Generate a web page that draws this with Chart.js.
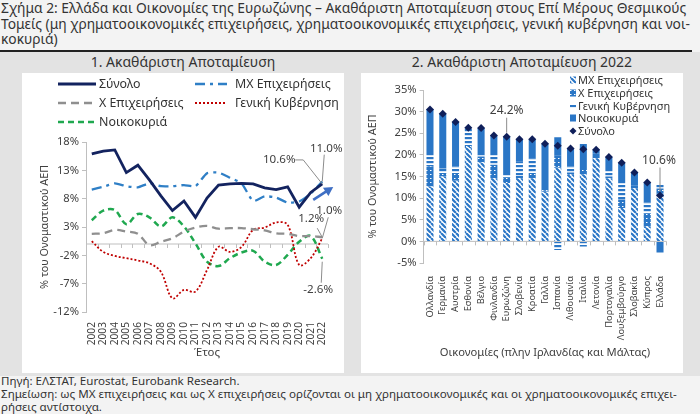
<!DOCTYPE html>
<html>
<head>
<meta charset="utf-8">
<script src="https://cdn.jsdelivr.net/npm/chart.js@4.4.1/dist/chart.umd.min.js"></script>
<style>
  body { margin: 0; width: 700px; height: 414px; background: #f3f3f3; font-family: "Noto Sans", Lato, sans-serif; color: #333; overflow: hidden; position: relative; }
  #title { position: absolute; left: 1px; top: 0px; width: 698px; font-size: 13.8px; line-height: 15.5px; white-space: nowrap; }
  #rule { position: absolute; left: 0; top: 50px; width: 692px; height: 1.5px; background: #222; }
  #band { position: absolute; left: 0; top: 52px; width: 700px; height: 324px; background: #e3e3e3; }
  .sub { position: absolute; top: 53px; font-size: 14px; line-height: 18px; text-align: center; }
  .panel { position: absolute; top: 73px; width: 322px; height: 300px; background: #fff; }
  #foot { position: absolute; left: 1px; top: 374px; width: 698px; font-size: 11.6px; line-height: 13px; white-space: nowrap; }
</style>
</head>
<body>
<div id="title">Σχήμα 2: Ελλάδα και Οικονομίες της Ευρωζώνης – Ακαθάριστη Αποταμίευση στους Επί Μέρους Θεσμικούς<br>Τομείς (μη χρηματοοικονομικές επιχειρήσεις, χρηματοοικονομικές επιχειρήσεις, γενική κυβέρνηση και νοι-<br>κοκυριά)</div>
<div id="rule"></div>
<div id="band"></div>
<div class="sub" style="left:22px;width:322px;">1. Ακαθάριστη Αποταμίευση</div>
<div class="sub" style="left:361px;width:322px;">2. Ακαθάριστη Αποταμίευση 2022</div>
<div class="panel" style="left:22px;"><canvas id="c1" width="322" height="300"></canvas></div>
<div class="panel" style="left:361px;"><canvas id="c2" width="322" height="300"></canvas></div>
<div id="foot">Πηγή: ΕΛΣΤΑΤ, Eurostat, Eurobank Research.<br>Σημείωση: ως ΜΧ επιχειρήσεις και ως Χ επιχειρήσεις ορίζονται οι μη χρηματοοικονομικές και οι χρηματοοικονομικές επιχει-<br>ρήσεις αντίστοιχα.</div>
<script>
// data — chart 1 (% of GDP)
const years = ['2002','2003','2004','2005','2006','2007','2008','2009','2010','2011','2012','2013','2014','2015','2016','2017','2018','2019','2020','2021','2022'];
const total = [15.9,16.4,16.6,12.6,13.9,11.3,8.5,5.9,7.6,4.7,8.1,10.4,10.6,10.7,10.6,9.9,9.6,10.1,6.5,9.1,10.6];
const nfc   = [9.6,10.1,10.7,10.2,10.0,10.7,10.2,10.2,10.4,10.2,12.5,12.6,11.7,10.7,7.6,8.4,8.2,7.3,7.5,8.9,11.0];
const fc    = [1.8,1.9,2.5,2.2,1.8,-0.2,0.4,1.0,2.2,2.9,3.2,2.7,2.8,2.8,2.6,2.4,1.9,1.8,1.4,1.4,1.2];
const gov   = [0.5,-1.4,-2.1,-2.5,-2.9,-3.4,-4.9,-9.6,-8.1,-8.4,-4.6,-0.5,-1.4,-0.5,2.5,2.9,3.8,3.4,-3.7,-2.5,1.0];
const hh    = [4.2,5.9,6.0,3.5,5.3,4.7,3.1,4.7,3.1,0.1,-3.1,-3.9,-2.5,-1.5,-1.2,-3.1,-3.7,-1.9,0.4,1.4,-2.6];
const yTicks1 = [-12,-7,-2,3,8,13,18];

// data — chart 2 (2022, % of GDP)
const countries = ['Ολλανδία','Γερμανία','Αυστρία','Εσθονία','Βέλγιο','Φινλανδία','Ευρωζώνη','Σλοβενία','Κροατία','Γαλλία','Ισπανία','Λιθουανία','Ιταλία','Λετονία','Πορτογαλία','Λουξεμβούργο','Σλοβακία','Κύπρος','Ελλάδα'];
const nfc22 = [12.7,15.0,14.0,21.8,18.3,14.6,13.5,14.6,14.6,11.5,17.0,15.4,15.5,19.2,14.6,7.7,12.3,3.5,11.0];
const fc22  = [4.6,0.8,1.8,0.5,1.3,3.1,1.2,0.5,1.2,0.3,2.8,0.5,1.0,0.8,0.4,2.0,0.3,3.0,1.2];
const gov22 = [2.7,1.0,1.5,3.8,0.3,2.3,1.1,3.4,3.4,0.0,-2.0,1.4,-1.2,0.4,1.5,3.8,0.4,2.5,1.0];
const hh22  = [10.6,12.7,10.3,0.2,6.3,4.5,8.4,5.1,4.4,10.8,4.3,4.2,6.0,0.8,3.0,4.7,2.9,4.6,-2.6];
const tot22 = [30.5,29.5,27.6,26.3,26.2,24.5,24.2,23.6,23.6,22.6,22.1,21.5,21.3,21.2,19.5,18.2,15.9,13.6,10.6];

const $ = id => document.getElementById(id);
const TXT = '#404040', AX = '#bfbfbf', BLUE = '#2a76c6';
const FAM = '"Noto Sans", Lato, sans-serif';
Chart.defaults.font.family = FAM;
Chart.defaults.color = TXT;
Chart.defaults.animation = false;

// zero line with little tick marks, like the category axis crossing at 0
const zeroLine = {
  id: 'zeroLine',
  beforeDatasetsDraw(chart) {
    const {ctx, chartArea: a, scales: {x, y}} = chart;
    const y0 = y.getPixelForValue(0), n = chart.data.labels.length;
    ctx.save();
    ctx.strokeStyle = AX; ctx.lineWidth = 1;
    ctx.beginPath();
    ctx.moveTo(a.left, y0); ctx.lineTo(a.right, y0);
    for (let i = 0; i <= n; i++) {
      const px = Math.round(a.left + (a.right - a.left) * i / n) + 0.5;
      ctx.moveTo(px, y0); ctx.lineTo(px, y0 + 4);
    }
    ctx.stroke();
    ctx.restore();
  }
};

// hand-placed legend
const fixedLegend = {
  id: 'fixedLegend',
  afterDraw(chart, args, opts) {
    const ctx = chart.ctx;
    ctx.save();
    ctx.font = opts.font;
    ctx.fillStyle = '#333';
    ctx.textBaseline = 'middle';
    opts.items.forEach(it => {
      const ds = chart.data.datasets[it.ds];
      if (it.kind === 'line') {
        ctx.save();
        ctx.strokeStyle = ds.borderColor; ctx.lineWidth = ds.borderWidth;
        ctx.setLineDash(ds.borderDash || []);
        ctx.beginPath(); ctx.moveTo(it.x, it.y); ctx.lineTo(it.x + it.len, it.y); ctx.stroke();
        ctx.restore();
        ctx.fillText(ds.label, it.x + it.len + it.gap, it.y + 0.5);
      } else if (it.kind === 'diamond') {
        ctx.save();
        ctx.fillStyle = ds.backgroundColor;
        ctx.beginPath();
        ctx.moveTo(it.x, it.y - 3.5); ctx.lineTo(it.x + 3.5, it.y); ctx.lineTo(it.x, it.y + 3.5); ctx.lineTo(it.x - 3.5, it.y);
        ctx.fill(); ctx.restore();
        ctx.fillText(ds.label, it.x + it.gap, it.y + 0.5);
      } else {
        ctx.save();
        ctx.fillStyle = ds.backgroundColor;
        ctx.fillRect(it.x - 3, it.y - it.h / 2, 6, it.h);
        ctx.restore();
        ctx.fillText(ds.label, it.x + it.gap, it.y + 0.5);
      }
    });
    ctx.restore();
  }
};

// value labels with leader lines, placed relative to the labelled point
const notes = {
  id: 'notes',
  afterDraw(chart, args, opts) {
    const {ctx, scales: {x, y}} = chart;
    ctx.save();
    ctx.font = opts.font;
    ctx.fillStyle = TXT;
    ctx.textAlign = 'center'; ctx.textBaseline = 'middle';
    ctx.strokeStyle = '#8c8c8c'; ctx.lineWidth = 1;
    opts.items.forEach(n => {
      const v = chart.data.datasets[n.ds].data[n.i];
      const ax = x.getPixelForValue(n.i), ay = y.getPixelForValue(v);
      ctx.fillText(n.text, ax + n.dx, ay + n.dy);
      ctx.beginPath();
      n.path.forEach((p, k) => k ? ctx.lineTo(ax + p[0], ay + p[1]) : ctx.moveTo(ax + p[0], ay + p[1]));
      ctx.stroke();
    });
    if (opts.arrow) {
      const i = years.length - 1;
      const ax = x.getPixelForValue(i), ay = y.getPixelForValue(total[i]);
      const [x1, y1, x2, y2] = [ax - 9, ay + 16, ax + 11, ay + 3];
      const ang = Math.atan2(y2 - y1, x2 - x1);
      ctx.strokeStyle = '#3f6fc4'; ctx.fillStyle = '#3f6fc4'; ctx.lineWidth = 2.6;
      ctx.beginPath(); ctx.moveTo(x1, y1);
      ctx.lineTo(x2 - 6 * Math.cos(ang), y2 - 6 * Math.sin(ang)); ctx.stroke();
      ctx.beginPath();
      ctx.moveTo(x2, y2);
      ctx.lineTo(x2 - 9 * Math.cos(ang) + 5 * Math.sin(ang), y2 - 9 * Math.sin(ang) - 5 * Math.cos(ang));
      ctx.lineTo(x2 - 9 * Math.cos(ang) - 5 * Math.sin(ang), y2 - 9 * Math.sin(ang) + 5 * Math.cos(ang));
      ctx.fill();
    }
    ctx.restore();
  }
};

// ---------- chart 1 ----------
new Chart($('c1'), {
  type: 'line',
  data: {
    labels: years,
    datasets: [
      { label: 'Σύνολο', data: total, borderColor: '#13235f', borderWidth: 2.8, tension: 0 },
      { label: 'ΜΧ Επιχειρήσεις', data: nfc, borderColor: '#2f7fc6', borderWidth: 2.3, borderDash: [10, 5, 3, 5], tension: 0.2 },
      { label: 'Χ Επιχειρήσεις', data: fc, borderColor: '#8f8f8f', borderWidth: 2.3, borderDash: [8, 5], tension: 0.35 },
      { label: 'Γενική Κυβέρνηση', data: gov, borderColor: '#c00000', borderWidth: 1.8, borderDash: [2, 2], tension: 0.35 },
      { label: 'Νοικοκυριά', data: hh, borderColor: '#1fa84f', borderWidth: 2.5, borderDash: [6, 4], tension: 0.35 }
    ]
  },
  options: {
    responsive: false,
    elements: { point: { radius: 0 } },
    layout: { padding: { left: 12.2, top: 69, right: 16, bottom: 0 } },
    scales: {
      x: {
        offset: true,
        grid: { display: false },
        border: { display: false },
        ticks: { font: { size: 10.2 }, minRotation: 90, maxRotation: 90, autoSkip: false, padding: 2 },
        title: { display: true, text: 'Έτος', font: { size: 11.4 }, padding: { top: 0, bottom: 13 } },
        afterFit: s => { s.height = 61; }
      },
      y: {
        min: -12, max: 18,
        afterBuildTicks: s => { s.ticks = yTicks1.map(v => ({ value: v })); },
        ticks: { font: { size: 11.2 }, callback: v => v + '%' },
        grid: { drawOnChartArea: false, drawTicks: true, tickLength: 4, color: AX },
        border: { color: AX },
        title: { display: true, text: '% του Ονομαστικού ΑΕΠ', font: { size: 10.8 } },
        afterFit: s => { s.width = 51.8; }
      }
    },
    plugins: {
      legend: { display: false },
      tooltip: { enabled: false },
      fixedLegend: {
        font: '12.4px ' + FAM,
        items: [
          { ds: 0, kind: 'line', x: 36, y: 11, len: 38, gap: 3 },
          { ds: 1, kind: 'line', x: 173, y: 11, len: 32, gap: 8 },
          { ds: 2, kind: 'line', x: 36, y: 30, len: 38, gap: 3 },
          { ds: 3, kind: 'line', x: 173, y: 30, len: 32, gap: 8 },
          { ds: 4, kind: 'line', x: 36, y: 49, len: 38, gap: 3 }
        ]
      },
      notes: {
        font: '11.6px ' + FAM,
        arrow: true,
        items: [
          { ds: 0, i: 20, text: '10.6%', dx: -43, dy: -24, path: [[-27, -24], [-19, -24], [0, 0]] },
          { ds: 1, i: 20, text: '11.0%', dx: 4, dy: -33, path: [[2, -27], [0, 0]] },
          { ds: 2, i: 20, text: '1.2%', dx: -11, dy: -19, path: [[-5, -9], [0, 0]] },
          { ds: 3, i: 20, text: '1.0%', dx: 7, dy: -28, path: [[6, -21], [0, 0]] },
          { ds: 4, i: 20, text: '-2.6%', dx: -4, dy: 31, path: [[-1, 24], [0, 3]] }
        ]
      }
    }
  },
  plugins: [zeroLine, fixedLegend, notes]
});

// ---------- chart 2 ----------
const ctx2 = $('c2').getContext('2d');
function makePattern(w, h, draw) {
  const c = document.createElement('canvas');
  c.width = w; c.height = h;
  draw(c.getContext('2d'), w, h);
  return ctx2.createPattern(c, 'repeat');
}
const hatch = makePattern(5, 5, (g, w) => {
  g.fillStyle = '#fff'; g.fillRect(0, 0, w, w);
  g.strokeStyle = BLUE; g.lineWidth = 2.2;
  g.beginPath();
  [-w, 0, w].forEach(k => { g.moveTo(k, 0); g.lineTo(k + w, w); });
  g.stroke();
});
const dots = makePattern(4, 4, (g) => {
  g.fillStyle = BLUE; g.fillRect(0, 0, 4, 4);
  g.fillStyle = '#ffffff'; g.fillRect(1, 1, 1.5, 1);
});
const stripes = makePattern(4, 4, (g) => {
  g.fillStyle = '#fff'; g.fillRect(0, 0, 4, 4);
  g.fillStyle = BLUE; g.fillRect(0, 0, 4, 2.2);
});

new Chart(ctx2, {
  type: 'bar',
  data: {
    labels: countries,
    datasets: [
      { label: 'ΜΧ Επιχειρήσεις', data: nfc22, backgroundColor: hatch, order: 1 },
      { label: 'Χ Επιχειρήσεις', data: fc22, backgroundColor: dots, order: 1 },
      { label: 'Γενική Κυβέρνηση', data: gov22, backgroundColor: stripes, order: 1 },
      { label: 'Νοικοκυριά', data: hh22, backgroundColor: BLUE, order: 1 },
      { label: 'Σύνολο', type: 'line', data: tot22, stack: 'total', showLine: false, order: 0,
        pointStyle: 'rectRot', pointRadius: 4, backgroundColor: '#0f1f5a', borderColor: '#0f1f5a', borderWidth: 0 }
    ]
  },
  options: {
    responsive: false,
    barPercentage: 0.55,
    categoryPercentage: 1,
    layout: { padding: { left: 1.2, top: 17, right: 16.6, bottom: 0 } },
    scales: {
      x: {
        stacked: true,
        offset: true,
        grid: { display: false },
        border: { display: false },
        ticks: { font: { size: 9.3 }, minRotation: 90, maxRotation: 90, autoSkip: false, padding: 5 },
        title: { display: true, text: 'Οικονομίες (πλην Ιρλανδίας και Μάλτας)', font: { size: 11.2 }, padding: { top: 0, bottom: 13 } },
        afterFit: s => { s.height = 110; }
      },
      y: {
        stacked: true,
        min: -5, max: 35,
        ticks: { stepSize: 5, font: { size: 11.2 }, callback: v => v + '%' },
        grid: { drawOnChartArea: false, drawTicks: true, tickLength: 4, color: AX },
        border: { color: AX },
        title: { display: true, text: '% του Ονομαστικού ΑΕΠ', font: { size: 10.8 } },
        afterFit: s => { s.width = 61.4; }
      }
    },
    plugins: {
      legend: { display: false },
      tooltip: { enabled: false },
      fixedLegend: {
        font: '11px ' + FAM,
        items: [
          { ds: 0, kind: 'box', x: 212, y: 7, h: 7, gap: 5 },
          { ds: 1, kind: 'box', x: 212, y: 20, h: 7, gap: 5 },
          { ds: 2, kind: 'box', x: 212, y: 33, h: 3, gap: 5 },
          { ds: 3, kind: 'box', x: 212, y: 45, h: 7, gap: 5 },
          { ds: 4, kind: 'diamond', x: 212, y: 58, gap: 5 }
        ]
      },
      notes: {
        font: '12px ' + FAM,
        items: [
          { ds: 4, i: 6, text: '24.2%', dx: 0, dy: -26, path: [[0, -19], [0, -4]] },
          { ds: 4, i: 18, text: '10.6%', dx: -1, dy: -35, path: [[0, -28], [0, -4]] }
        ]
      }
    }
  },
  plugins: [zeroLine, fixedLegend, notes]
});
</script>
</body>
</html>
